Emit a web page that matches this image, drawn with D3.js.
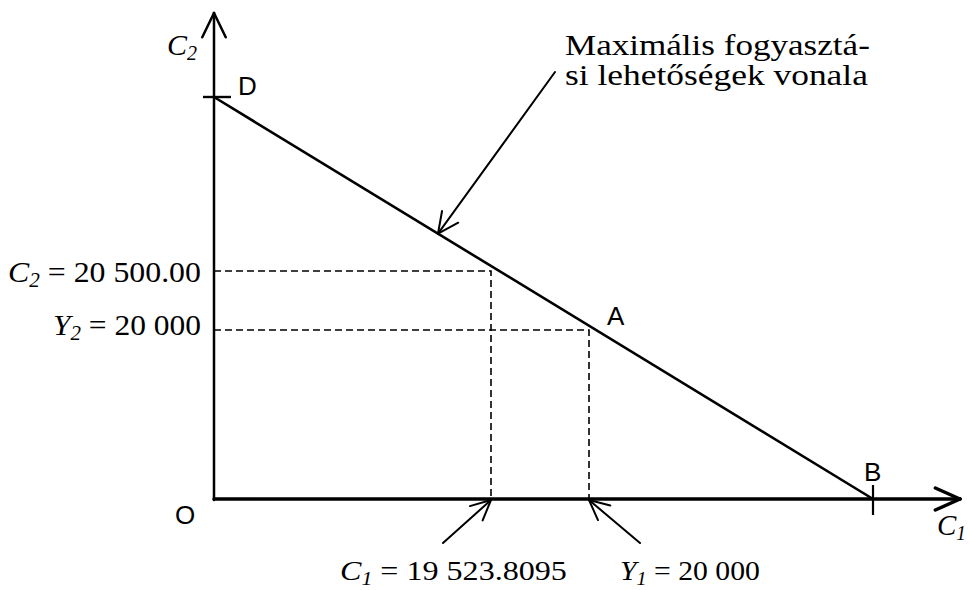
<!DOCTYPE html>
<html>
<head>
<meta charset="utf-8">
<script src="https://cdn.jsdelivr.net/npm/d3@7"></script>
<style>
  body { margin: 0; background: #fff; }
  svg { display: block; }
</style>
</head>
<body>
<div id="chart"></div>
<script>
// values (r = 5%)
const endowment = [20000, 20000];        // Y1, Y2
const optimum = [19523.8095, 20500.00];  // C1, C2
const intercepts = [39047.62, 41000];    // B on the C1 axis, D on the C2 axis
const xTickLabels = ["19 523.8095", "20 000"];
const yTickLabels = ["20 500.00", "20 000"];
const annotation = ["Maximális fogyasztá-", "si lehetőségek vonala"];

const width = 970, height = 590;

const svg = d3.select("#chart")
    .append("svg")
    .attr("width", width)
    .attr("height", height);

// schematic (not to scale) axes, like the original drawing
const x = d3.scaleLinear()
    .domain([0, optimum[0], endowment[0], intercepts[0]])
    .range([214, 491, 589, 873]);
const y = d3.scaleLinear()
    .domain([0, endowment[1], optimum[1], intercepts[1]])
    .range([499, 330, 271, 97]);

const serif = "'Times New Roman', 'Liberation Serif', Tinos, 'Nimbus Roman', Times, serif";
const sans = "'Liberation Sans', Arial, sans-serif";

function arrow(x1, y1, x2, y2, len, ang, w) {
    const g = svg.append("g")
        .attr("stroke", "#000")
        .attr("stroke-width", w)
        .attr("fill", "none")
        .attr("stroke-linecap", "round");
    g.append("line").attr("x1", x1).attr("y1", y1).attr("x2", x2).attr("y2", y2);
    const a = Math.atan2(y1 - y2, x1 - x2);
    [a - ang, a + ang].forEach(b => {
        g.append("line")
            .attr("x1", x2).attr("y1", y2)
            .attr("x2", x2 + len * Math.cos(b))
            .attr("y2", y2 + len * Math.sin(b));
    });
}

// squeeze/stretch a text horizontally so it spans [x0, x1]
function fit(t, x0, x1, baseline) {
    const w = t.node().getBBox().width;
    t.attr("transform", `translate(${x0},${baseline}) scale(${(x1 - x0) / w},1)`);
}

// dashed guide lines
const pts = [[optimum[0], optimum[1]], [endowment[0], endowment[1]]];
pts.forEach(p => {
    svg.append("path")
        .attr("d", `M${x(0)},${y(p[1])}H${x(p[0])}V${y(0)}`)
        .attr("fill", "none")
        .attr("stroke", "#000")
        .attr("stroke-width", 1.6)
        .attr("stroke-dasharray", "7,4");
});

// axes with arrow heads
arrow(x(0), y(0), 960, y(0), 27, 0.42, 3.5);
arrow(x(0), y(0) + 1, x(0), 13, 27, 0.45, 2.5);

// budget line D-B
svg.append("line")
    .attr("x1", x(0)).attr("y1", y(intercepts[1]))
    .attr("x2", x(intercepts[0])).attr("y2", y(0))
    .attr("stroke", "#000")
    .attr("stroke-width", 2.6);

// tick marks at D and B
svg.append("line")
    .attr("x1", x(0) - 11).attr("x2", x(0) + 17)
    .attr("y1", y(intercepts[1])).attr("y2", y(intercepts[1]))
    .attr("stroke", "#000").attr("stroke-width", 2.4);
svg.append("line")
    .attr("x1", x(intercepts[0])).attr("x2", x(intercepts[0]))
    .attr("y1", y(0) - 14).attr("y2", y(0) + 16)
    .attr("stroke", "#000").attr("stroke-width", 2.2);

// pointer arrows
const t = (438 - x(0)) / (x(intercepts[0]) - x(0));
const tip = [x(0) + t * (x(intercepts[0]) - x(0)), y(intercepts[1]) + t * (y(0) - y(intercepts[1]))];
arrow(555, 72, tip[0], tip[1], 23, 0.45, 2);
arrow(443, 543, x(optimum[0]), y(0) + 1, 22, 0.45, 2);
arrow(640, 543, x(endowment[0]), y(0) + 1, 22, 0.45, 2);

// point labels
const pointLabels = [
    { text: "D", x: 238, y: 95 },
    { text: "A", x: 607, y: 325 },
    { text: "B", x: 864, y: 481 },
    { text: "O", x: 175, y: 524 }
];
svg.selectAll(".pt")
    .data(pointLabels)
    .join("text")
    .attr("class", "pt")
    .attr("x", d => d.x)
    .attr("y", d => d.y)
    .style("font-family", sans)
    .style("font-size", "26px")
    .text(d => d.text);

// label with italic variable + subscript
function varLabel(name, sub, rest, size = 30) {
    const tx = svg.append("text")
        .style("font-family", serif)
        .style("font-size", size + "px");
    tx.append("tspan").style("font-style", "italic").text(name);
    tx.append("tspan").style("font-style", "italic").style("font-size", Math.round(size * 0.68) + "px")
        .attr("dy", 5).text(sub);
    if (rest) tx.append("tspan").attr("dy", -5).text(rest);
    return tx;
}

fit(varLabel("C", "2"), 167, 197, 55);
fit(varLabel("C", "1"), 937, 966, 535);
fit(varLabel("C", "2", " = " + yTickLabels[0]), 8, 201, 282);
fit(varLabel("Y", "2", " = " + yTickLabels[1]), 53, 201, 335);
fit(varLabel("C", "1", " = " + xTickLabels[0], 28), 340, 567, 580);
fit(varLabel("Y", "1", " = " + xTickLabels[1], 28), 620, 760, 580);

// annotation text
annotation.forEach((s, i) => {
    const tx = svg.append("text")
        .style("font-family", serif)
        .style("font-size", "30px")
        .text(s);
    fit(tx, 565, i === 0 ? 870 : 868, 55 + i * 30);
});
</script>
</body>
</html>
